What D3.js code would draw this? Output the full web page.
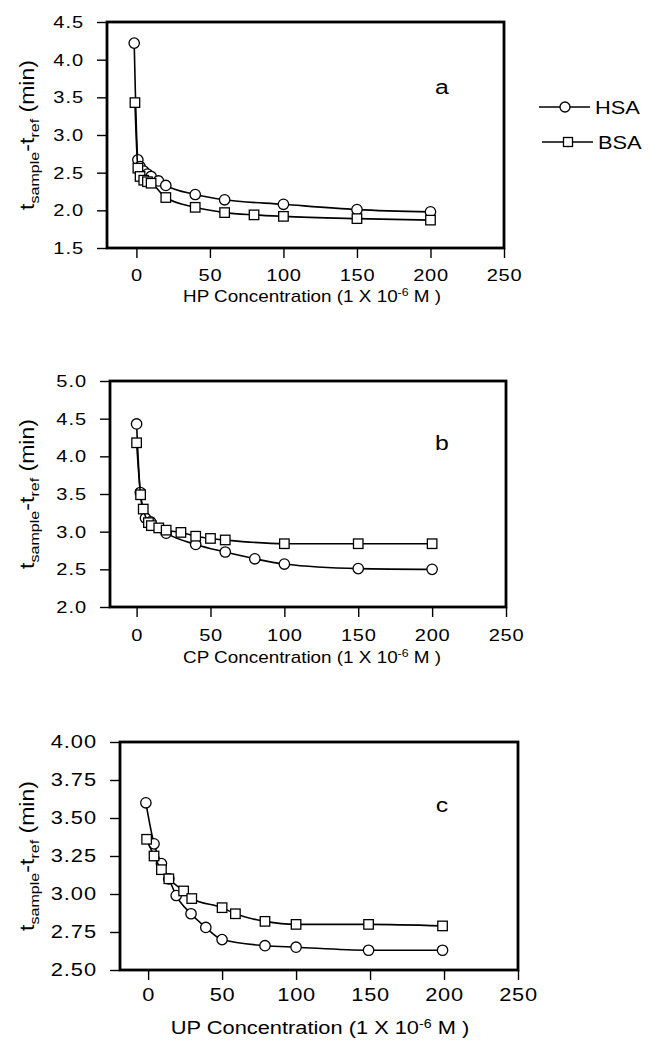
<!DOCTYPE html>
<html>
<head>
<meta charset="utf-8">
<script src="https://cdn.jsdelivr.net/npm/d3@7"></script>
<style>
body { margin: 0; background: #fff; }
svg { display: block; }
</style>
</head>
<body>
<div id="chart"></div>
<script>
// values (x in 1e-6 M, y in min)
var hpHSA_x = [-1.5, 1, 2.5, 5, 7.5, 10, 15, 20, 40, 60, 100, 150, 200];
var hpHSA_y = [4.22, 2.67, 2.58, 2.52, 2.48, 2.45, 2.39, 2.33, 2.21, 2.14, 2.08, 2.01, 1.98];
var hpBSA_x = [-1, 1, 2.5, 5, 7.5, 10, 20, 40, 60, 80, 100, 150, 200];
var hpBSA_y = [3.43, 2.56, 2.45, 2.40, 2.38, 2.36, 2.17, 2.04, 1.97, 1.94, 1.92, 1.89, 1.87];

var cpHSA_x = [0, 2.5, 6, 9.5, 20, 40, 60, 80, 100, 150, 200];
var cpHSA_y = [4.43, 3.52, 3.18, 3.13, 2.98, 2.83, 2.73, 2.64, 2.57, 2.51, 2.50];
var cpBSA_x = [0, 2.7, 4.5, 8, 10, 15, 20, 30, 40, 50, 60, 100, 150, 200];
var cpBSA_y = [4.18, 3.49, 3.30, 3.12, 3.08, 3.05, 3.02, 2.99, 2.94, 2.91, 2.89, 2.84, 2.84, 2.84];

var upHSA_x = [-1.5, 4, 9, 14, 19, 29, 39, 50, 79, 100, 149, 199];
var upHSA_y = [3.60, 3.33, 3.20, 3.10, 2.99, 2.87, 2.78, 2.70, 2.66, 2.65, 2.63, 2.63];
var upBSA_x = [-1, 4, 9, 14, 24, 29.5, 50, 59, 79, 100, 149, 199];
var upBSA_y = [3.36, 3.25, 3.16, 3.10, 3.02, 2.97, 2.91, 2.87, 2.82, 2.80, 2.80, 2.79];

var xTicks = [0, 50, 100, 150, 200, 250];
var yTicksA = [1.5, 2.0, 2.5, 3.0, 3.5, 4.0, 4.5];
var yTicksB = [2.0, 2.5, 3.0, 3.5, 4.0, 4.5, 5.0];
var yTicksC = [2.50, 2.75, 3.00, 3.25, 3.50, 3.75, 4.00];
var seriesNames = ["HSA", "BSA"];

// setup
var w = 651;
var h = 1053;
var SX = 1.18; // lettering in the scan is a bit wide
var FONT = "'Liberation Sans', Arial, Helvetica, sans-serif";
var svg = d3.select("#chart")
    .append("svg")
    .attr("width", w)
    .attr("height", h)
    .style("background", "white")
    .style("font-family", FONT);

var panels = [
    {x0: 107, x1: 504, yb: 248, yt: 22, xdom: [-20, 250], ydom: [1.5, 4.5], yticks: yTicksA, yfmt: ".1f",
     font: 17, tfont: 16, xpad: 11, name: "HP", titleX: 312, titleY: 302, letter: "a", letterY: 94,
     hsa: [hpHSA_x, hpHSA_y], bsa: [hpBSA_x, hpBSA_y]},
    {x0: 110, x1: 506, yb: 607, yt: 381, xdom: [-18, 250], ydom: [2.0, 5.0], yticks: yTicksB, yfmt: ".1f",
     font: 17, tfont: 16, xpad: 12, name: "CP", titleX: 312, titleY: 663, letter: "b", letterY: 450,
     hsa: [cpHSA_x, cpHSA_y], bsa: [cpBSA_x, cpBSA_y]},
    {x0: 120, x1: 518, yb: 970, yt: 742, xdom: [-19, 250], ydom: [2.5, 4.0], yticks: yTicksC, yfmt: ".2f",
     font: 18.5, tfont: 18.5, xpad: 8, name: "UP", titleX: 320, titleY: 1034, letter: "c", letterY: 812,
     hsa: [upHSA_x, upHSA_y], bsa: [upBSA_x, upBSA_y]}
];

function circleMark(sel, r) {
    sel.append("circle").attr("r", r)
        .attr("fill", "white").attr("stroke", "black").attr("stroke-width", 1.3);
}
function squareMark(sel, s) {
    sel.append("rect").attr("x", -s / 2).attr("y", -s / 2).attr("width", s).attr("height", s)
        .attr("fill", "white").attr("stroke", "black").attr("stroke-width", 1.3);
}

panels.forEach(function(p) {
    var x = d3.scaleLinear().domain(p.xdom).range([p.x0, p.x1]);
    var y = d3.scaleLinear().domain(p.ydom).range([p.yb, p.yt]);

    // axes
    var gx = svg.append("g")
        .attr("transform", "translate(0," + p.yb + ")")
        .call(d3.axisBottom(x).tickValues(xTicks).tickSize(10).tickPadding(p.xpad).tickSizeOuter(0));
    gx.select(".domain").remove();
    gx.selectAll(".tick line").attr("stroke", "#000").attr("stroke-width", 1.4);
    gx.selectAll(".tick text")
        .attr("transform", "scale(" + SX + ",1)")
        .attr("fill", "#000")
        .style("font-family", FONT)
        .style("letter-spacing", "0.6px")
        .style("font-size", p.font + "px");

    var gy = svg.append("g")
        .attr("transform", "translate(" + p.x0 + ",0)")
        .call(d3.axisLeft(y).tickValues(p.yticks).tickFormat(d3.format(p.yfmt)).tickSize(10).tickPadding(13).tickSizeOuter(0));
    gy.select(".domain").remove();
    gy.selectAll(".tick line").attr("stroke", "#000").attr("stroke-width", 1.4);
    gy.selectAll(".tick text")
        .attr("x", -23 / SX)
        .attr("transform", "scale(" + SX + ",1)")
        .attr("fill", "#000")
        .style("font-family", FONT)
        .style("letter-spacing", "0.8px")
        .style("font-size", p.font + "px");

    // lines + markers
    var line = d3.line()
        .x(function(d) { return x(d[0]); })
        .y(function(d) { return y(d[1]); })
        .curve(d3.curveMonotoneX);

    [p.hsa, p.bsa].forEach(function(s, k) {
        var pts = d3.zip(s[0], s[1]);
        svg.append("path")
            .datum(pts)
            .attr("d", line)
            .attr("fill", "none")
            .attr("stroke", "black")
            .attr("stroke-width", 1.6);
        var g = svg.append("g").selectAll("g")
            .data(pts)
            .join("g")
            .attr("transform", function(d) { return "translate(" + x(d[0]) + "," + y(d[1]) + ")"; });
        if (k == 0) circleMark(g, 5.2);
        else squareMark(g, 9.5);
    });

    // frame
    svg.append("rect")
        .attr("x", p.x0).attr("y", p.yt)
        .attr("width", p.x1 - p.x0).attr("height", p.yb - p.yt)
        .attr("fill", "none").attr("stroke", "black").attr("stroke-width", 2.8);

    // panel letter
    svg.append("text")
        .attr("transform", "translate(442," + p.letterY + ") scale(" + SX + ",1)")
        .attr("text-anchor", "middle")
        .style("font-size", "21px")
        .text(p.letter);

    // x title
    var fs = p.tfont;
    var xt = svg.append("text")
        .attr("transform", "translate(" + p.titleX + "," + p.titleY + ") scale(" + SX + ",1)")
        .attr("text-anchor", "middle")
        .style("font-size", fs + "px");
    xt.append("tspan").text(p.name + " Concentration (1 X 10");
    xt.append("tspan").attr("dy", -6).style("font-size", (fs * 0.65) + "px").text("-6");
    xt.append("tspan").attr("dy", 6).text(" M )");

    // y title
    var cy = (p.yt + p.yb) / 2;
    var ys = 19.5;
    var yt = svg.append("text")
        .attr("transform", "translate(34," + cy + ") rotate(-90) scale(" + SX + ",1)")
        .attr("text-anchor", "middle")
        .style("font-size", ys + "px");
    yt.append("tspan").text("t");
    yt.append("tspan").attr("dy", 5).style("font-size", (ys * 0.7) + "px").text("sample");
    yt.append("tspan").attr("dy", -5).text("-t");
    yt.append("tspan").attr("dy", 5).style("font-size", (ys * 0.7) + "px").text("ref");
    yt.append("tspan").attr("dy", -5).text(" (min)");
});

// legend
var leg = svg.append("g");
seriesNames.forEach(function(name, i) {
    var ly = 107 + i * 35;
    var lx = 539 + i * 3;
    leg.append("line")
        .attr("x1", lx).attr("x2", lx + 51)
        .attr("y1", ly).attr("y2", ly)
        .attr("stroke", "black").attr("stroke-width", 1.6);
    var m = leg.append("g").attr("transform", "translate(" + (lx + 26) + "," + ly + ")");
    if (i == 0) circleMark(m, 5);
    else squareMark(m, 9);
    leg.append("text")
        .attr("transform", "translate(" + (lx + 56) + "," + (ly + 7) + ") scale(" + SX + ",1)")
        .style("font-size", "18.5px")
        .text(name);
});
</script>
</body>
</html>
